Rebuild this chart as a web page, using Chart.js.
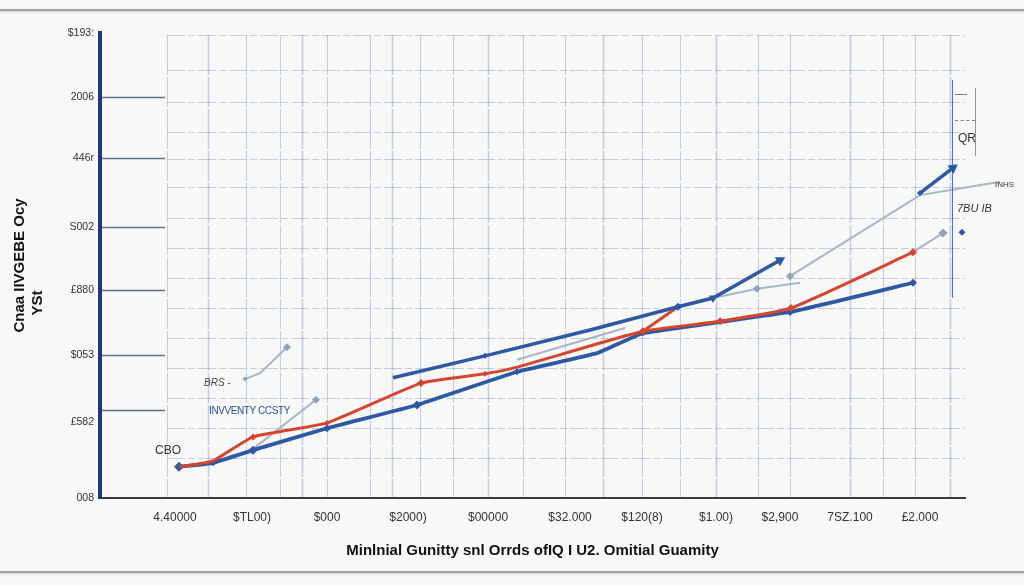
<!DOCTYPE html>
<html><head><meta charset="utf-8">
<script src="https://cdn.jsdelivr.net/npm/chart.js@4.4.0/dist/chart.umd.min.js"></script>
<style>
html,body{margin:0;padding:0;background:#f8f8f6;}
#wrap{position:relative;width:1024px;height:585px;overflow:hidden;background:#f8f8f6;}
canvas{position:absolute;left:0;top:0;}
.rule{position:absolute;left:0;width:1024px;height:2px;background:#a3a3a3;box-shadow:0 1px 2px rgba(0,0,0,0.18);}
.note{position:absolute;font-family:"Liberation Sans",Arial,sans-serif;white-space:nowrap;line-height:1;}
.vl{position:absolute;width:0;}
.hl{position:absolute;height:0;}
</style></head>
<body><div id="wrap">
<canvas id="c" width="1024" height="585" style="width:1024px;height:585px"></canvas>
<div class="rule" style="top:9px"></div>
<div class="rule" style="top:571px"></div>
<div class="vl" style="left:952px;top:80px;height:218px;border-left:1.5px solid rgba(45,80,150,0.8)"></div>
<div class="vl" style="left:975px;top:88px;height:68px;border-left:1px solid rgba(60,80,120,0.6)"></div>
<div class="hl" style="left:955px;top:94px;width:12px;border-top:1px solid rgba(50,70,120,0.7)"></div>
<div class="hl" style="left:955px;top:120px;width:20px;border-top:1px dashed rgba(50,70,120,0.7)"></div>
<div class="note" style="left:155px;top:444px;font-size:12px;color:#333">CBO</div>
<div class="note" style="left:204px;top:378px;font-size:10px;color:#444;font-style:italic">BRS <span style="font-style:normal">-</span></div>
<div class="note" style="left:209px;top:406px;font-size:10px;color:#2d4f93;letter-spacing:-0.4px">INVVENTY CCSTY</div>
<div class="note" style="left:995px;top:181px;font-size:8px;color:#334">INHS</div>
<div class="note" style="left:957px;top:203px;font-size:11px;color:#333;font-style:italic">7BU IB</div>
<div class="note" style="left:958px;top:132px;font-size:12px;color:#333">QR</div>
</div>
<script>
// ---- data ----
const xTickVals   = [8.67, 17.57, 26.24, 35.61, 44.86, 54.34, 62.66, 71.21, 78.61, 86.71, 94.80];
const xTickLabels = ['4.40000', '$TL00)', '$000', '$2000)', '$00000', '$32.000', '$120(8)', '$1.00)', '$2,900', '7SZ.100', '£2.000'];
const yTickVals   = [0, 1.14, 2.15, 3.13, 4.08, 5.12, 6.04, 7];
const yTickLabels = ['008', '£582', '$053', '£880', 'S002', '446r', '2006', '$193:'];

const redX = [9.13, 13.06, 17.69, 26.24, 37.11, 44.51, 48.21, 62.77, 71.68, 79.88, 93.99];
const redY = [0.47, 0.56, 0.92, 1.13, 1.73, 1.87, 1.97, 2.51, 2.66, 2.86, 3.70];
const redForkX = [62.77, 66.82];
const redForkY = [2.51, 2.88];

const lowBlueX = [9.13, 13.06, 17.69, 26.24, 36.65, 48.21, 57.46, 62.77, 79.77, 93.99];
const lowBlueY = [0.47, 0.53, 0.72, 1.05, 1.40, 1.90, 2.18, 2.48, 2.80, 3.24];

const upBlueX = [33.87, 44.51, 56.65, 66.82, 70.87, 78.61];
const upBlueY = [1.81, 2.14, 2.53, 2.88, 3.01, 3.58];

const topBlueX = [94.80, 98.61];
const topBlueY = [4.59, 4.97];

const g1X = [17.69, 24.97], g1Y = [0.74, 1.48];
const g2X = [16.76, 18.50, 21.62], g2Y = [1.79, 1.88, 2.27];
const g3X = [48.21, 60.69], g3Y = [2.08, 2.56];
const g4X = [70.87, 75.95, 80.92], g4Y = [3.01, 3.15, 3.24];
const g5X = [79.77, 94.80, 104.05], g5Y = [3.34, 4.56, 4.76];
const g6X = [93.99, 97.46], g6Y = [3.70, 3.99];
const dotX = [99.65], dotY = [4.00];

const gridX = [7.75, 12.49, 16.88, 20.81, 23.35, 26.24, 31.21, 33.76, 36.99, 40.81, 44.86, 48.90, 53.76, 58.15, 62.66, 67.05, 71.21, 76.07, 79.77, 86.71, 90.52, 94.22, 98.27];
const gridY = [6.97, 6.44, 5.96, 5.51, 5.10, 4.68, 4.21, 3.76, 3.31, 2.86, 2.41, 1.96, 1.51, 1.05, 0.60];
const stubY = [1.32, 2.15, 3.13, 4.08, 5.12, 6.04];

const pts = (xs, ys) => xs.map((v, i) => ({x: v, y: ys[i]}));

const BLUE = '#2c59a2', RED = '#d6452f', GRAY = '#a6b5c8', NAVY = '#1d3c76';

const sketchGrid = {
  id: 'sketchGrid',
  beforeDatasetsDraw(chart) {
    const {ctx, chartArea: a, scales: {x, y}} = chart;
    const x0 = x.getPixelForValue(gridX[0]);
    const yTop = y.getPixelForValue(gridY[0]);
    ctx.save();
    ctx.strokeStyle = 'rgba(80,110,170,0.30)';
    ctx.lineWidth = 1.1;
    ctx.setLineDash([18, 3, 7, 3]);
    gridY.forEach(v => {
      const py = Math.round(y.getPixelForValue(v)) + 0.5;
      ctx.beginPath(); ctx.moveTo(x0, py); ctx.lineTo(a.right, py); ctx.stroke();
    });
    ctx.setLineDash([40, 2, 30, 2]);
    gridX.forEach((v, i) => {
      const px = Math.round(x.getPixelForValue(v)) + 0.5;
      ctx.lineWidth = (i % 3 === 1) ? 1.6 : 1.1;
      ctx.beginPath(); ctx.moveTo(px, yTop); ctx.lineTo(px, a.bottom); ctx.stroke();
    });
    ctx.setLineDash([]);
    ctx.strokeStyle = 'rgba(35,55,95,0.7)';
    ctx.lineWidth = 1.6;
    stubY.forEach(v => {
      const py = Math.round(y.getPixelForValue(v)) + 0.5;
      ctx.beginPath(); ctx.moveTo(a.left + 2, py); ctx.lineTo(x0 - 2, py); ctx.stroke();
    });
    ctx.restore();
  }
};

Chart.defaults.font.family = '"Liberation Sans", Arial, sans-serif';

const grayDs = (label, xs, ys, radius) => ({
  label, data: pts(xs, ys), borderColor: GRAY, borderWidth: 2,
  pointRadius: radius, pointStyle: 'rectRot', pointBackgroundColor: '#8ea3c2', pointBorderWidth: 0, clip: false
});

new Chart(document.getElementById('c'), {
  type: 'line',
  data: {
    datasets: [
      {label: 'up', data: pts(upBlueX, upBlueY), borderColor: BLUE, borderWidth: 3.5,
       pointRadius: [0, 3, 0, 4, 5, 6], pointStyle: ['circle','rectRot','circle','rectRot','triangle','triangle'],
       pointRotation: [0,0,0,0,60,60], pointBackgroundColor: BLUE, pointBorderColor: BLUE, pointBorderWidth: 0},
      {label: 'top', data: pts(topBlueX, topBlueY), borderColor: BLUE, borderWidth: 3.5,
       pointRadius: [3, 6], pointStyle: ['rectRot','triangle'], pointRotation: [0, 53],
       pointBackgroundColor: BLUE, pointBorderWidth: 0},
      {label: 'red', data: pts(redX, redY), borderColor: RED, borderWidth: 3, tension: 0.15,
       pointRadius: [0, 0, 3.5, 3, 4, 3, 0, 4, 4, 4, 4], pointStyle: 'rectRot',
       pointBackgroundColor: RED, pointBorderWidth: 0},
      {label: 'redFork', data: pts(redForkX, redForkY), borderColor: RED, borderWidth: 3, pointRadius: 0},
      {label: 'low', data: pts(lowBlueX, lowBlueY), borderColor: BLUE, borderWidth: 3.8, tension: 0.1,
       pointRadius: [5, 3.5, 4.5, 4, 4.5, 3.5, 0, 3, 4, 4], pointStyle: 'rectRot',
       pointBackgroundColor: BLUE, pointBorderWidth: 0},
      grayDs('g1', g1X, g1Y, [0, 4]),
      grayDs('g2', g2X, g2Y, [2.5, 0, 4]),
      grayDs('g3', g3X, g3Y, 0),
      grayDs('g4', g4X, g4Y, [0, 4, 0]),
      grayDs('g5', g5X, g5Y, [4, 0, 0]),
      grayDs('g6', g6X, g6Y, [0, 4.5]),
      {label: 'dot', data: pts(dotX, dotY), showLine: false, pointRadius: 3.5, pointStyle: 'rectRot',
       pointBackgroundColor: BLUE, pointBorderWidth: 0, clip: false}
    ]
  },
  options: {
    responsive: false, maintainAspectRatio: false, animation: false,
    layout: {padding: {left: 0, right: 59, top: 33, bottom: 20}},
    plugins: {legend: {display: false}, tooltip: {enabled: false}},
    scales: {
      x: {
        type: 'linear', min: 0, max: 100,
        afterFit(s) { s.height = 67; },
        afterBuildTicks(s) { s.ticks = xTickVals.map(v => ({value: v})); },
        ticks: {callback: (v, i) => xTickLabels[i], autoSkip: false, maxRotation: 0, font: {size: 12}, color: '#333', padding: 12},
        grid: {display: false, drawTicks: false},
        border: {display: true, color: '#3a3a3a', width: 2},
        title: {display: true, text: 'Minlnial Gunitty snl Orrds ofIQ I U2. Omitial Guamity',
                font: {size: 15, weight: 'bold'}, color: '#111', padding: {top: 0, bottom: 5}}
      },
      y: {
        type: 'linear', min: 0, max: 7,
        afterFit(s) { s.width = 100; },
        afterBuildTicks(s) { s.ticks = yTickVals.map(v => ({value: v})); },
        ticks: {callback: (v, i) => yTickLabels[i], font: {size: 10.5}, color: '#333', padding: 6},
        grid: {display: false, drawTicks: false},
        border: {display: true, color: NAVY, width: 4},
        title: {display: true, text: ['Cnaa IIVGEBE Ocy', 'YSt' + ' '.repeat(18)],
                font: {size: 15, weight: 'bold'}, color: '#111', padding: {top: 11, bottom: 0}}
      }
    }
  },
  plugins: [sketchGrid]
});
</script>
</body></html>
